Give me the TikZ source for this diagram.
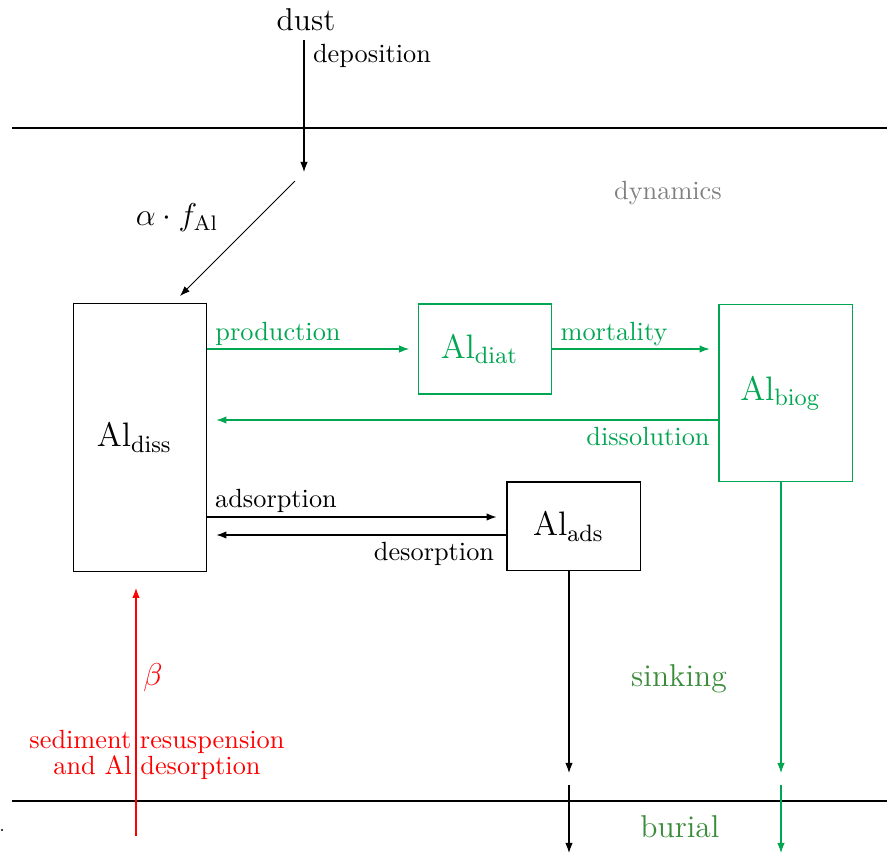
\documentclass[tikz,border=0pt]{standalone}
\usetikzlibrary{arrows.meta}
\definecolor{boxgreen}{RGB}{0,166,81}
\definecolor{txtgreen}{RGB}{58,140,58}
\newcommand{\pool}[2]{Al$_{\mathrm{#1}}$\hspace*{#2}}
\tikzset{
  poolbox/.style={draw, rectangle, inner sep=0pt, minimum width=50.9pt, font=\fontsize{12.9}{15}\selectfont},
  greenbox/.style={poolbox, draw=boxgreen, text=boxgreen},
  arr/.style={-{Latex[length=3.8pt,width=2.8pt]}},
  garr/.style={arr, draw=boxgreen},
  lbl/.style={inner sep=0pt, anchor=base},
  glbl/.style={lbl, text=boxgreen},
}
\begin{document}
\begin{tikzpicture}[x=0.38pt,y=-0.38pt]
\useasboundingbox (0,0) rectangle (887,855);
% horizon lines
\coordinate (tl) at (12,128); \coordinate (tr) at (887,128);
\coordinate (bl) at (12,801); \coordinate (br) at (887,801);
\draw (tl) -- (tr);
\draw (bl) -- (br);
\fill (2,830) circle[radius=1.2];
% boxes
\node[poolbox, minimum height=101.5pt] (diss) at (140,437.5) {\pool{diss}{4.2pt}};
\node[greenbox, minimum height=34.2pt] (diat) at (485,349) {\pool{diat}{4.2pt}};
\node[greenbox, minimum height=67.6pt] (biog) at (786,393) {\pool{biog}{4.2pt}};
\node[poolbox, minimum height=33.8pt] (ads) at (574,526.5) {\pool{ads}{4.2pt}};
% dust
\node[font=\large, inner sep=1pt, anchor=base] (dust) at (306,30) {dust};
\coordinate (depa) at (304,40);
\coordinate (dep) at (304,172);
\draw[arr] (depa) -- (dep);
\node[lbl] (deplbl) at (372,63) {deposition};
% alpha f
\coordinate (as) at (295,181);
\coordinate (ae) at (180,296);
\draw[arr] (as) -- (ae);
\node[font=\large] (alf) at (177,218) {$\alpha\cdot f_{\mathrm{Al}}$};
\node[text=gray] (dyn) at (668,193) {dynamics};
% green fluxes
\draw[garr, shorten >=3.2pt] (diss.east |- diat.west) -- (diat.west);
\node[glbl] (prod) at (278,340) {production};
\draw[garr, shorten >=3.4pt] (diat.east) -- (biog.west |- diat.east);
\node[glbl] (mort) at (614,340) {mortality};
\draw[garr, shorten >=3.4pt] (biog.west |- 0,420) -- (diss.east |- 0,420);
\node[glbl] (diss lbl) at (648,446) {dissolution};
% adsorption / desorption
\draw[arr, shorten >=3.8pt] (diss.east |- 0,517) -- (ads.west |- 0,517);
\node[lbl] (adsl) at (276,508) {adsorption};
\draw[arr, shorten >=3.4pt] (ads.west |- 0,535) -- (diss.east |- 0,535);
\node[lbl] (desl) at (434,561) {desorption};
% sinking
\coordinate (a1) at (569,773); \coordinate (a2) at (569,785); \coordinate (a3) at (569,853);
\coordinate (b1) at (781,773); \coordinate (b2) at (781,785); \coordinate (b3) at (781,853);
\draw[arr] (ads.south -| a1) -- (a1);
\draw[arr] (a2) -- (a3);
\draw[garr] (biog.south -| b1) -- (b1);
\draw[garr] (b2) -- (b3);
\node[font=\large, text=txtgreen] (sink) at (679,679) {sinking};
\node[font=\large, text=txtgreen] (bur) at (680,827) {burial};
% resuspension
\coordinate (r0) at (136,836);
\coordinate (r1) at (136,588);
\draw[arr, red] (r0) -- (r1);
\node[font=\large, text=red] (beta) at (153,678) {$\beta$};
\node[text=red, align=center, inner sep=0pt, font=\fontsize{10}{10}\selectfont] (sed) at (157,755) {sediment resuspension\\and Al desorption};
\end{tikzpicture}
\end{document}
